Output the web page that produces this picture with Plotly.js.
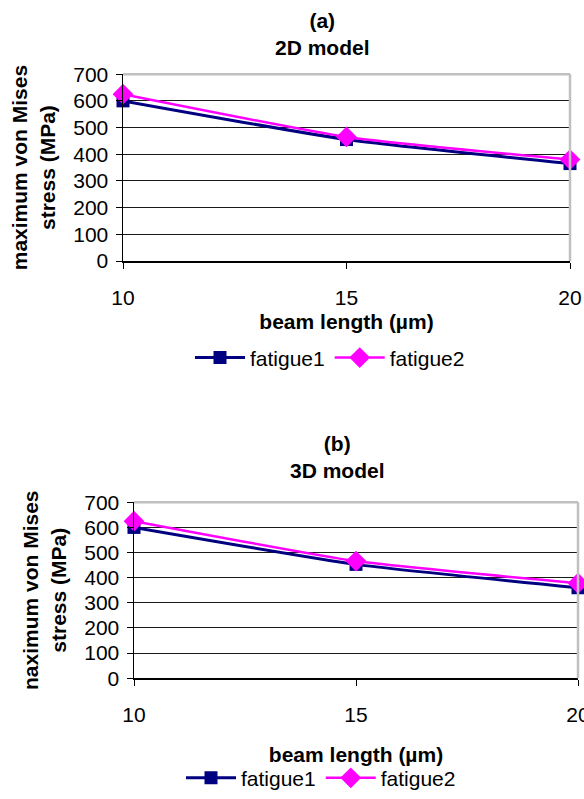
<!DOCTYPE html>
<html><head><meta charset="utf-8">
<script src="https://cdn.plot.ly/plotly-3.0.1.min.js"></script>
<style>html,body{margin:0;padding:0;background:#fff}</style>
</head><body><div id="chart" style="width:584px;height:799px"></div>
<script>
// ---- data ----
const beamLength = [10, 15, 20];
const fatigue1_2D = [600, 455, 365];
const fatigue2_2D = [625, 465, 380];
const fatigue1_3D = [600, 453, 360];
const fatigue2_3D = [625, 466, 378];
const yTickVals = [0, 100, 200, 300, 400, 500, 600, 700];
const xTickVals = [10, 15, 20];
const seriesNames = ["fatigue1", "fatigue2"];
const panelTitles = ["<b>(a)</b><br><b>2D model</b>", "<b>(b)</b><br><b>3D model</b>"];
const yTitles = ["maximum von Mises<br>stress (MPa)", "naximum von Mises<br>stress (MPa)"];
const xTitle = "beam length (µm)";

// ---- styling ----
const FONT = "Arial, 'Liberation Sans', sans-serif";
const FS = 21;
const W = 584, H = 799;
const navy = "#000080", magenta = "#FF00FF";

function px(x){return x / W;}
function py(y){return 1 - y / H;}

function trace(x, y, name, color, symbol, size, xa, ya, legend, lw){
  return {
    x: x, y: y, name: name, type: "scatter", mode: "lines+markers",
    xaxis: xa, yaxis: ya, legend: legend,
    line: {color: color, width: lw, shape: "spline", smoothing: 0.5},
    marker: {color: color, symbol: symbol, size: size, line: {width: 0}},
    cliponaxis: false
  };
}

const data = [
  trace(beamLength, fatigue1_2D, seriesNames[0], navy, "square", 13, "x", "y", "legend", 3),
  trace(beamLength, fatigue2_2D, seriesNames[1], magenta, "diamond", 16, "x", "y", "legend", 2.5),
  trace(beamLength, fatigue1_3D, seriesNames[0], navy, "square", 13, "x2", "y2", "legend2", 3),
  trace(beamLength, fatigue2_3D, seriesNames[1], magenta, "diamond", 16, "x2", "y2", "legend2", 2.5)
];

function xAxis(domain, anchor, standoff){
  return {
    domain: domain, anchor: anchor, range: [10, 20], tickvals: xTickVals,
    ticks: "outside", ticklen: 6, tickcolor: "#000", tickwidth: 1,
    ticklabelstandoff: 11, ticklabeloverflow: "allow",
    showline: true, linecolor: "#000", linewidth: 1.5,
    showgrid: false, zeroline: false, fixedrange: true,
    tickfont: {family: FONT, size: FS, color: "#000"},
    title: {text: "<b>" + xTitle + "</b>", font: {family: FONT, size: FS, color: "#000"}, standoff: standoff}
  };
}
function yAxis(domain, anchor, title, standoff){
  return {
    domain: domain, anchor: anchor, range: [0, 700], tickvals: yTickVals,
    ticks: "outside", ticklen: 6, tickcolor: "#000", tickwidth: 1,
    ticklabelstandoff: 3,
    showline: true, linecolor: "#000", linewidth: 1.5,
    showgrid: true, gridcolor: "#1a1a1a", gridwidth: 1,
    zeroline: false, fixedrange: true,
    tickfont: {family: FONT, size: FS, color: "#000"},
    title: {text: "<b>" + title + "</b>", font: {family: FONT, size: FS, color: "#000"}, standoff: standoff}
  };
}

function border(xref, yref){
  return [
    {type: "line", xref: xref + " domain", yref: yref + " domain", x0: 0, x1: 1, y0: 1, y1: 1,
     line: {color: "#c0c0c0", width: 2.5}},
    {type: "line", xref: xref + " domain", yref: yref + " domain", x0: 1, x1: 1, y0: 0, y1: 1,
     line: {color: "#c0c0c0", width: 2.5}}
  ];
}

const legendFont = {family: FONT, size: FS, color: "#000"};

const layout = {
  width: W, height: H, autosize: false,
  margin: {l: 0, r: 0, t: 0, b: 0},
  paper_bgcolor: "#fff", plot_bgcolor: "#fff",
  font: {family: FONT, size: FS, color: "#000"},
  xaxis: xAxis([px(123), px(570)], "y", 6),
  yaxis: yAxis([py(264), py(75)], "x", yTitles[0], 12),
  xaxis2: xAxis([px(134), px(578)], "y2", 22),
  yaxis2: yAxis([py(686), py(508)], "x2", yTitles[1], 12),
  shapes: border("x", "y").concat(border("x2", "y2")),
  annotations: [
    {text: panelTitles[0], xref: "paper", yref: "paper", x: px(322), y: py(34),
     xanchor: "center", yanchor: "middle", showarrow: false,
     font: {family: FONT, size: FS, color: "#000"}},
    {text: panelTitles[1], xref: "paper", yref: "paper", x: px(337), y: py(462),
     xanchor: "center", yanchor: "middle", showarrow: false,
     font: {family: FONT, size: FS, color: "#000"}}
  ],
  legend: {orientation: "h", x: px(330), y: py(362), xanchor: "center", yanchor: "middle",
           itemwidth: 50, font: legendFont, bgcolor: "rgba(0,0,0,0)"},
  legend2: {orientation: "h", x: px(321), y: py(787), xanchor: "center", yanchor: "middle",
           itemwidth: 50, font: legendFont, bgcolor: "rgba(0,0,0,0)"},
  showlegend: true
};

Plotly.newPlot("chart", data, layout, {displayModeBar: false, staticPlot: true});
</script>
</body></html>
